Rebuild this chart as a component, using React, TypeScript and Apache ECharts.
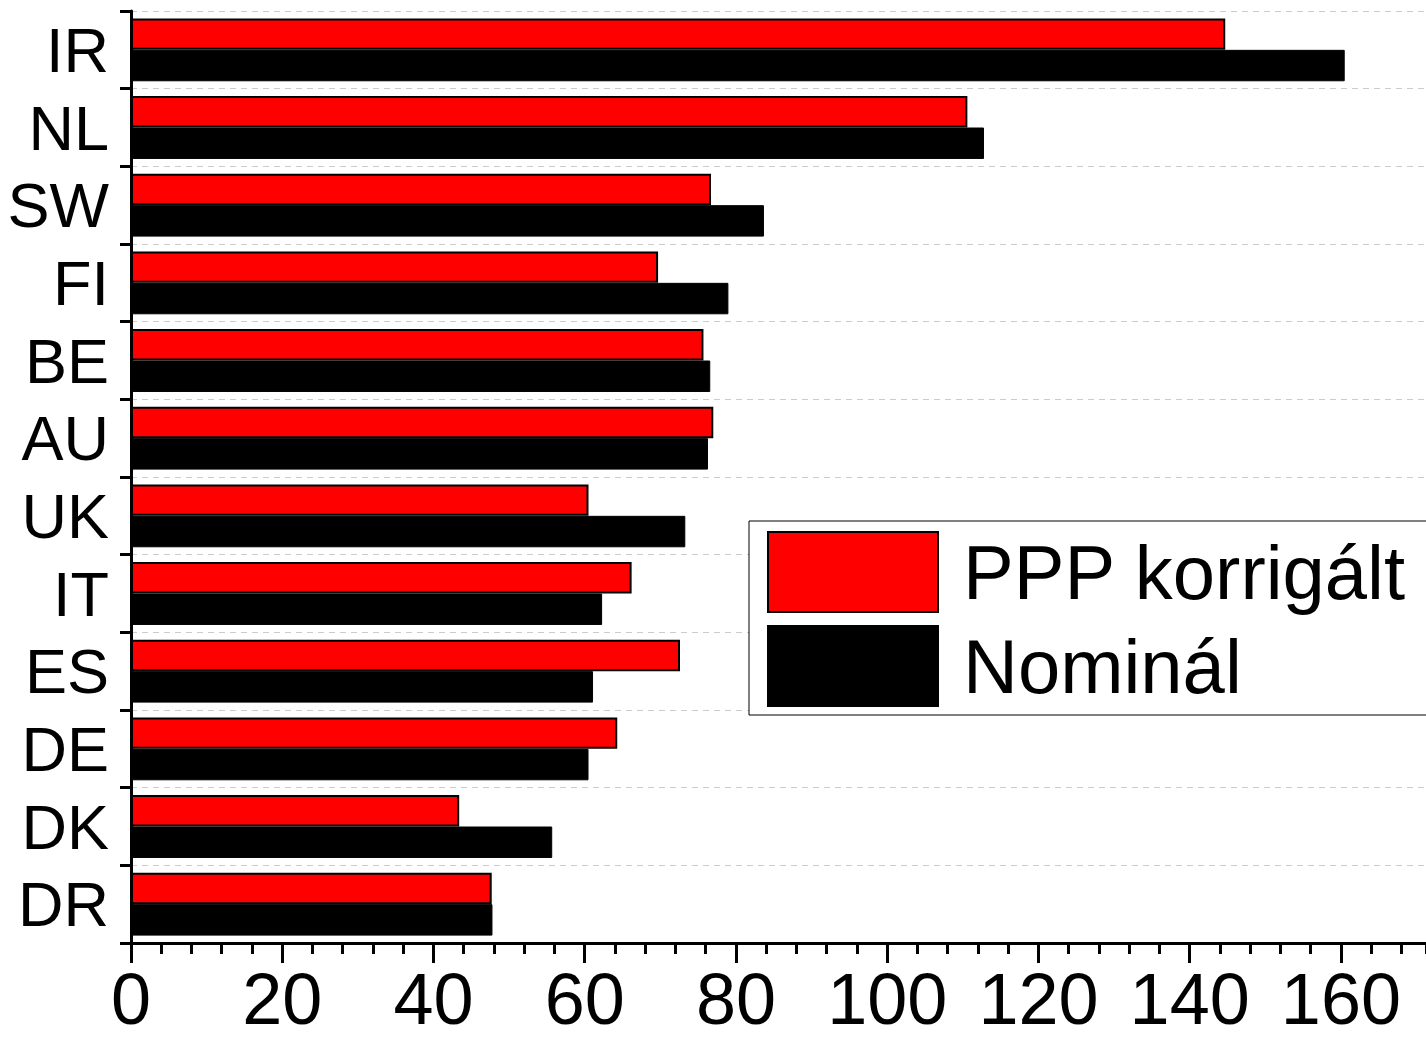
import React, { useEffect, useRef } from "react";
import * as echarts from "echarts";

const categories = ["IR", "NL", "SW", "FI", "BE", "AU", "UK", "IT", "ES", "DE", "DK", "DR"];
const pppValues = [144.7, 110.6, 76.7, 69.7, 75.7, 77.0, 60.5, 66.2, 72.6, 64.3, 43.4, 47.7];
const nominalValues = [160.5, 112.8, 83.7, 79.0, 76.6, 76.3, 73.3, 62.3, 61.1, 60.5, 55.7, 47.8];
const seriesNames = ["PPP korrigált", "Nominál"];
const xMin = 0;
const xMax = 171.25;
const xMajor = 20;
const xMinor = 4;

const FONT = "Arial, 'Liberation Sans', sans-serif";

export default function App() {
  const ref = useRef<HTMLDivElement>(null);
  useEffect(() => {
    if (!ref.current) return;
    const chart = echarts.init(ref.current, undefined, { renderer: "svg" });
    chart.setOption({
      animation: false,
      backgroundColor: "#ffffff",
      grid: { left: 131, right: 0, top: 11, bottom: 95, containLabel: false },
      legend: {
        orient: "vertical",
        left: 749,
        top: 521,
        padding: [10, 40, 8, 18],
        itemWidth: 170,
        itemHeight: 80,
        itemGap: 12,
        borderColor: "#000",
        borderWidth: 1,
        backgroundColor: "#fff",
        icon: "rect",
        textStyle: { fontSize: 76, color: "#000", fontFamily: FONT, padding: [0, 0, 0, 20] },
        data: seriesNames,
      },
      xAxis: [
        {
          type: "value",
          min: xMin,
          max: xMax,
          interval: xMajor,
          position: "bottom",
          axisLine: { show: true, lineStyle: { color: "#000", width: 3 } },
          axisTick: { show: true, length: 20, lineStyle: { color: "#000", width: 3 } },
          axisLabel: {
            show: true,
            fontSize: 72,
            lineHeight: 56,
            color: "#000",
            fontFamily: FONT,
            margin: 28,
            showMaxLabel: false,
          },
          splitLine: { show: false },
        },
        {
          type: "value",
          min: xMin,
          max: xMax,
          interval: xMinor,
          position: "bottom",
          axisLine: { show: false },
          axisTick: { show: true, length: 11, lineStyle: { color: "#000", width: 3 } },
          axisLabel: { show: false },
          splitLine: { show: false },
        },
      ],
      yAxis: {
        type: "category",
        data: categories,
        inverse: true,
        axisLine: { show: true, lineStyle: { color: "#000", width: 3 } },
        axisTick: { show: true, interval: 0, length: 11, lineStyle: { color: "#000", width: 3 } },
        axisLabel: {
          interval: 0,
          fontSize: 63,
          color: "#000",
          fontFamily: FONT,
          margin: 22,
          padding: [0, 0, 10, 0],
        },
        splitLine: { show: true, interval: 0, lineStyle: { color: "#cccccc", type: [6, 5], width: 1 } },
      },
      series: [
        {
          name: seriesNames[0],
          type: "bar",
          xAxisIndex: 0,
          data: pppValues,
          barGap: "0%",
          barCategoryGap: "19%",
          itemStyle: { color: "#ff0000", borderColor: "#000", borderWidth: 2 },
        },
        {
          name: seriesNames[1],
          type: "bar",
          xAxisIndex: 0,
          data: nominalValues,
          barGap: "0%",
          barCategoryGap: "19%",
          itemStyle: { color: "#000000", borderColor: "#000", borderWidth: 1 },
        },
      ],
    });
    return () => chart.dispose();
  }, []);
  return (
    <div
      ref={ref}
      style={{ position: "fixed", left: 0, top: 0, width: 1426, height: 1038, background: "#fff" }}
    />
  );
}
